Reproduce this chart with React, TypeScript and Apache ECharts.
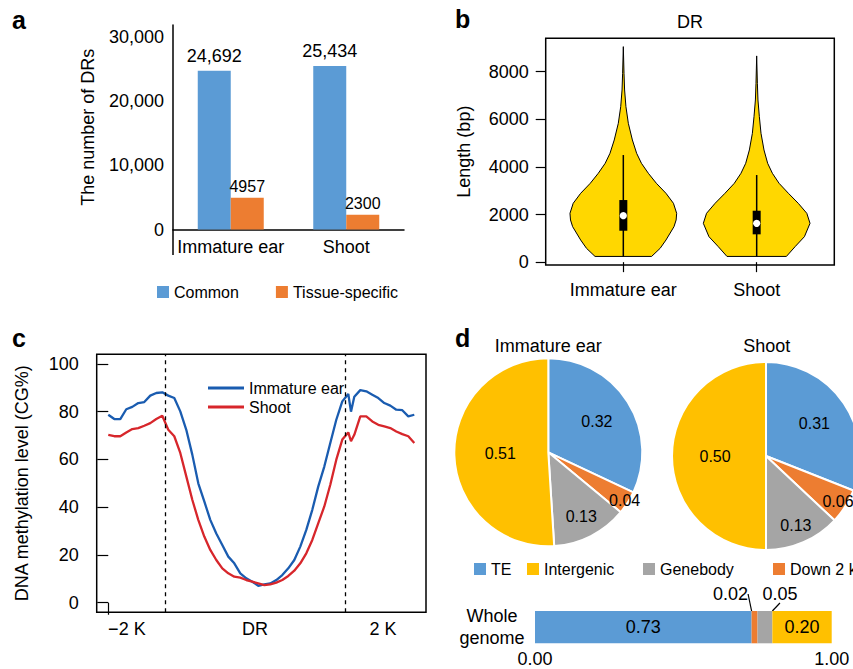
import React, { useEffect, useRef } from 'react';
import * as echarts from 'echarts';

const FONT = '"Liberation Sans", Arial, Helvetica, sans-serif';
const BLACK = '#000';

// ---------- Panel a: DR counts ----------
const barCategories = ['Immature ear', 'Shoot'];
const commonCounts = [24692, 25434];
const specificCounts = [4957, 2300];
const barYTicks = [0, 10000, 20000, 30000];

// ---------- Panel b: violin (length, bp) ----------
const violinGroups = ['Immature ear', 'Shoot'];
const earViolinValues = [240, 580, 930, 1490, 1770, 2050, 2470, 2890, 3310, 3730, 4150, 4570, 5130, 5830, 6530, 7230, 7930, 9050];
const earViolinDensity = [0.53, 0.69, 0.8, 0.95, 0.99, 1.0, 0.94, 0.8, 0.62, 0.47, 0.34, 0.25, 0.17, 0.094, 0.049, 0.024, 0.013, 0];
const shootViolinValues = [240, 650, 1070, 1630, 2050, 2470, 2890, 3310, 3730, 4150, 4710, 5410, 6110, 6810, 7510, 8660];
const shootViolinDensity = [0.557, 0.72, 0.895, 1.0, 0.94, 0.78, 0.595, 0.42, 0.295, 0.206, 0.137, 0.081, 0.05, 0.024, 0.013, 0];
const boxQ1 = [1319, 1168];
const boxQ3 = [2608, 2159];
const boxMedian = [1949, 1630];
const whiskerLow = [240, 240];
const whiskerHigh = [4498, 3658];
const violinYTicks = [0, 2000, 4000, 6000, 8000];

// ---------- Panel c: methylation profile ----------
const profileX = [0, 1, 2, 3, 4, 5, 6, 7, 8, 9, 10, 11, 12, 13, 14, 15, 16, 17, 18, 19, 20, 21, 22, 23, 24, 25, 26, 27, 28, 29, 30, 31, 32, 33, 34, 35, 36, 37, 38, 39, 40, 40.45, 41, 42, 43, 44, 45, 46, 47, 48, 49, 50, 51];
const earMethylation = [78.7, 76.9, 76.9, 81.0, 82.0, 83.6, 84.0, 86.7, 87.8, 88.1, 86.7, 85.7, 80.1, 72.4, 62.0, 50.0, 42.4, 34.7, 29.0, 24.2, 19.3, 16.5, 12.3, 10.2, 8.8, 7.1, 7.7, 8.1, 9.5, 11.6, 14.4, 17.9, 23.5, 30.5, 38.9, 48.7, 57.0, 66.9, 76.6, 84.3, 87.4, 80.0, 86.2, 89.0, 88.5, 87.1, 85.7, 83.6, 82.5, 80.8, 80.6, 78.0, 78.7];
const shootMethylation = [70.3, 69.7, 69.7, 71.3, 72.7, 73.1, 74.1, 75.2, 76.9, 78.3, 72.4, 69.7, 62.7, 52.9, 43.1, 34.7, 27.7, 22.1, 17.9, 14.4, 12.3, 10.9, 10.5, 9.5, 8.8, 8.1, 7.4, 7.7, 8.4, 9.5, 11.2, 13.4, 16.5, 20.7, 26.3, 33.3, 40.3, 49.4, 59.9, 68.3, 71.3, 67.6, 70.3, 78.0, 78.0, 75.9, 74.5, 73.8, 73.1, 71.7, 70.6, 69.7, 66.9];
const drBoundaries = [9.57, 39.45];
const profileYTicks = [0, 20, 40, 60, 80, 100];
const profileXTicks = [0];
const profileXLabelAt = [3.1, 24.45, 45.8];
const profileXLabels = ['\u22122 K', 'DR', '2 K'];

// ---------- Panel d: genomic distribution ----------
const regionNames = ['TE', 'Down 2 kb', 'Genebody', 'Intergenic'];
const earFractions = [0.32, 0.04, 0.13, 0.51];
const shootFractions = [0.31, 0.06, 0.13, 0.5];
const wholeGenomeFractions = [0.73, 0.02, 0.05, 0.2];
const legendOrder = ['TE', 'Intergenic', 'Genebody', 'Down 2 kb'];
const wholeGenomeTicks = [0, 1];

// styles
const regionColors: Record<string, string> = {
  TE: '#5B9BD5',
  'Down 2 kb': '#ED7D31',
  Genebody: '#A5A5A5',
  Intergenic: '#FFC000',
};
const earLabelRadius = [0.58, 0.93, 0.74, 0.48];
const shootLabelRadius = [0.59, 0.875, 0.77, 0.51];
const legendDLeft = [469, 522, 638, 768];
const PIE_R = 94;
const VIOLIN_HALF = 0.4;

function buildOption(): any {
  const violinProfiles = [
    { values: earViolinValues, dens: earViolinDensity },
    { values: shootViolinValues, dens: shootViolinDensity },
  ];

  const pieSeries = (name: string, center: number[], fr: number[], radii: number[]) => {
    const out: any[] = [
      {
        type: 'pie',
        name,
        center,
        radius: PIE_R,
        startAngle: 90,
        clockwise: true,
        silent: true,
        emphasis: { disabled: true },
        label: { show: false },
        labelLine: { show: false },
        itemStyle: { borderColor: '#fff', borderWidth: 2 },
        data: regionNames.map((n, k) => ({ name: n, value: fr[k], itemStyle: { color: regionColors[n] } })),
      },
    ];
    regionNames.forEach((_, j) => {
      const d = radii[j] * PIE_R;
      out.push({
        type: 'pie',
        name: name + '-label-' + j,
        center,
        radius: [d - 1, d + 1],
        startAngle: 90,
        clockwise: true,
        silent: true,
        emphasis: { disabled: true },
        labelLine: { show: false },
        itemStyle: { color: 'rgba(0,0,0,0)', borderWidth: 0 },
        label: {
          position: 'inside',
          fontSize: 16,
          fontFamily: FONT,
          color: BLACK,
          formatter: (p: any) => Number(p.value).toFixed(2),
        },
        data: regionNames.map((n, k) => ({
          name: n,
          value: fr[k],
          label: { show: k === j },
        })),
      });
    });
    return out;
  };

  const axisText = { color: BLACK, fontFamily: FONT, fontSize: 18 };

  return {
    animation: false,
    backgroundColor: '#fff',
    textStyle: { fontFamily: FONT, color: BLACK },
    grid: [
      { left: 173, top: 25, width: 231, height: 204.5 },
      { left: 545.7, top: 38.3, width: 288.6, height: 226.7, show: true, borderColor: BLACK, borderWidth: 1.5, backgroundColor: 'transparent' },
      { left: 96.7, top: 354.3, width: 329.3, height: 258, show: true, borderColor: BLACK, borderWidth: 1.5, backgroundColor: 'transparent' },
      { left: 535, top: 611, width: 296.7, height: 32.3 },
    ],
    xAxis: [
      {
        gridIndex: 0,
        type: 'category',
        data: barCategories,
        axisLine: { show: true, lineStyle: { color: BLACK, width: 1.5 } },
        axisTick: { show: false },
        axisLabel: { ...axisText, margin: 8, interval: 0 },
      },
      {
        gridIndex: 1,
        type: 'value',
        min: 0.418,
        max: 2.582,
        splitLine: { show: false },
        axisLine: { show: false },
        axisTick: { show: true, length: 10, lineStyle: { color: BLACK, width: 1.2 }, customValues: [1, 2] },
        axisLabel: { ...axisText, margin: 16, customValues: [1, 2], formatter: (v: number) => violinGroups[Math.round(v) - 1] },
      },
      {
        gridIndex: 2,
        type: 'value',
        min: -1.93,
        max: 52.95,
        splitLine: { show: false },
        axisLine: { show: false },
        axisTick: { show: true, length: 12, lineStyle: { color: BLACK, width: 1.2 }, customValues: profileXTicks },
        axisLabel: {
          ...axisText,
          margin: 8,
          customValues: profileXLabelAt,
          formatter: (v: number) => {
            const i = profileXLabelAt.findIndex((p) => Math.abs(p - v) < 1e-6);
            return i >= 0 ? profileXLabels[i] : '';
          },
        },
      },
      {
        gridIndex: 3,
        type: 'value',
        min: 0,
        max: 1,
        splitLine: { show: false },
        axisLine: { show: false },
        axisTick: { show: false },
        axisLabel: { ...axisText, margin: 7, customValues: wholeGenomeTicks, formatter: (v: number) => v.toFixed(2) },
      },
    ],
    yAxis: [
      {
        gridIndex: 0,
        type: 'value',
        min: 0,
        max: 31820,
        splitLine: { show: false },
        axisLine: { show: true, lineStyle: { color: BLACK, width: 1.5 } },
        axisTick: { show: false },
        axisLabel: { ...axisText, margin: 9, customValues: barYTicks, formatter: (v: number) => v.toLocaleString('en-US') },
        name: 'The number of DRs',
        nameLocation: 'middle',
        nameGap: 76,
        nameTextStyle: { ...axisText },
      },
      {
        gridIndex: 1,
        type: 'value',
        min: -120,
        max: 9400,
        splitLine: { show: false },
        axisLine: { show: false },
        axisTick: { show: true, length: 10, lineStyle: { color: BLACK, width: 1.2 }, customValues: violinYTicks },
        axisLabel: { ...axisText, margin: 17, customValues: violinYTicks, formatter: (v: number) => String(v) },
        name: 'Length (bp)',
        nameLocation: 'middle',
        nameGap: 73,
        nameTextStyle: { ...axisText },
      },
      {
        gridIndex: 2,
        type: 'value',
        min: -4,
        max: 104,
        splitLine: { show: false },
        axisLine: { show: false },
        axisTick: { show: true, length: 11, lineStyle: { color: BLACK, width: 1.2 }, customValues: profileYTicks },
        axisLabel: { ...axisText, margin: 18, customValues: profileYTicks, formatter: (v: number) => String(v) },
        name: 'DNA methylation level (CG%)',
        nameLocation: 'middle',
        nameGap: 66,
        nameTextStyle: { ...axisText },
      },
      {
        gridIndex: 3,
        type: 'category',
        data: ['Whole genome'],
        axisLine: { show: false },
        axisTick: { show: false },
        axisLabel: { ...axisText, margin: 43, align: 'center', lineHeight: 22, formatter: () => 'Whole\ngenome' },
      },
    ],
    legend: [
      {
        data: ['Common', 'Tissue-specific'],
        left: 152,
        top: 279,
        icon: 'rect',
        itemWidth: 12,
        itemHeight: 12,
        itemGap: 37,
        selectedMode: false,
        textStyle: { fontSize: 16, color: BLACK, fontFamily: FONT },
      },
      {
        data: ['Immature ear', 'Shoot'],
        orient: 'vertical',
        left: 203,
        top: 375,
        icon: 'rect',
        itemWidth: 36,
        itemHeight: 3,
        itemGap: 3,
        selectedMode: false,
        textStyle: { fontSize: 16, color: BLACK, fontFamily: FONT },
      },
      ...legendOrder.map((name, k) => ({
        data: [name],
        left: legendDLeft[k],
        top: 556,
        icon: 'rect',
        itemWidth: 12,
        itemHeight: 12,
        selectedMode: false,
        textStyle: { fontSize: 16, color: BLACK, fontFamily: FONT },
      })),
    ],
    graphic: [
      { type: 'line', shape: { x1: 173, y1: 229.5, x2: 173, y2: 255 }, style: { stroke: BLACK, lineWidth: 1.5 } },
      { type: 'text', style: { text: 'a', x: 12, y: 20.3, verticalAlign: 'middle', font: 'bold 25px ' + FONT, fill: BLACK } },
      { type: 'text', style: { text: 'b', x: 455, y: 19.3, verticalAlign: 'middle', font: 'bold 25px ' + FONT, fill: BLACK } },
      { type: 'text', style: { text: 'c', x: 12, y: 338.3, verticalAlign: 'middle', font: 'bold 25px ' + FONT, fill: BLACK } },
      { type: 'text', style: { text: 'd', x: 455, y: 338.3, verticalAlign: 'middle', font: 'bold 25px ' + FONT, fill: BLACK } },
      { type: 'text', style: { text: 'DR', x: 690, y: 22, align: 'center', verticalAlign: 'middle', font: '18px ' + FONT, fill: BLACK } },
      { type: 'text', style: { text: 'Immature ear', x: 548.3, y: 345.5, align: 'center', verticalAlign: 'middle', font: '18px ' + FONT, fill: BLACK } },
      { type: 'text', style: { text: 'Shoot', x: 766.7, y: 345.5, align: 'center', verticalAlign: 'middle', font: '18px ' + FONT, fill: BLACK } },
    ],
    series: [
      // panel a
      {
        type: 'bar',
        name: 'Common',
        xAxisIndex: 0,
        yAxisIndex: 0,
        data: commonCounts,
        barWidth: 33,
        barGap: '0%',
        itemStyle: { color: '#5B9BD5' },
        label: { show: true, position: 'top', distance: 6, fontSize: 18, color: BLACK, fontFamily: FONT, formatter: (p: any) => Number(p.value).toLocaleString('en-US') },
      },
      {
        type: 'bar',
        name: 'Tissue-specific',
        xAxisIndex: 0,
        yAxisIndex: 0,
        data: specificCounts,
        barWidth: 33,
        barGap: '0%',
        itemStyle: { color: '#ED7D31' },
        label: { show: true, position: 'top', distance: 3, fontSize: 16, color: BLACK, fontFamily: FONT, formatter: (p: any) => String(p.value) },
      },
      // panel b
      {
        type: 'custom',
        name: 'violin',
        xAxisIndex: 1,
        yAxisIndex: 1,
        silent: true,
        data: violinGroups.map((_, i) => [i + 1, boxMedian[i]]),
        renderItem: (params: any, api: any) => {
          const i = params.dataIndex;
          const x = api.value(0);
          const prof = violinProfiles[i];
          const pts: number[][] = [];
          for (let k = 0; k < prof.values.length; k++) pts.push(api.coord([x - prof.dens[k] * VIOLIN_HALF, prof.values[k]]));
          for (let k = prof.values.length - 1; k >= 0; k--) pts.push(api.coord([x + prof.dens[k] * VIOLIN_HALF, prof.values[k]]));
          const top = api.coord([x, whiskerHigh[i]]);
          const bot = api.coord([x, whiskerLow[i]]);
          const q3 = api.coord([x, boxQ3[i]]);
          const q1 = api.coord([x, boxQ1[i]]);
          const med = api.coord([x, boxMedian[i]]);
          return {
            type: 'group',
            children: [
              { type: 'polygon', shape: { points: pts }, style: { fill: '#FFD700', stroke: BLACK, lineWidth: 1 } },
              { type: 'line', shape: { x1: top[0], y1: top[1], x2: bot[0], y2: bot[1] }, style: { stroke: BLACK, lineWidth: 1.5 } },
              { type: 'rect', shape: { x: q3[0] - 4, y: q3[1], width: 8, height: q1[1] - q3[1] }, style: { fill: BLACK } },
              { type: 'circle', shape: { cx: med[0], cy: med[1], r: 3.6 }, style: { fill: '#fff' } },
            ],
          };
        },
      },
      // panel c
      {
        type: 'line',
        name: 'Immature ear',
        xAxisIndex: 2,
        yAxisIndex: 2,
        data: profileX.map((x, i) => [x, earMethylation[i]]),
        symbol: 'none',
        color: '#1A5CB0',
        lineStyle: { color: '#1A5CB0', width: 2.3 },
        itemStyle: { color: '#1A5CB0' },
        markLine: {
          silent: true,
          symbol: ['none', 'none'],
          label: { show: false },
          lineStyle: { color: BLACK, type: [4, 4], width: 1.3 },
          data: drBoundaries.map((x) => ({ xAxis: x })),
        },
      },
      {
        type: 'line',
        name: 'Shoot',
        xAxisIndex: 2,
        yAxisIndex: 2,
        data: profileX.map((x, i) => [x, shootMethylation[i]]),
        symbol: 'none',
        color: '#D7262B',
        lineStyle: { color: '#D7262B', width: 2.3 },
        itemStyle: { color: '#D7262B' },
      },
      // panel d: whole genome stacked bar
      ...regionNames.map((name, k) => {
        const inside = wholeGenomeFractions[k] >= 0.1;
        const s: any = {
          type: 'bar',
          name,
          xAxisIndex: 3,
          yAxisIndex: 3,
          stack: 'wg',
          barWidth: '100%',
          silent: true,
          data: [wholeGenomeFractions[k]],
          itemStyle: { color: regionColors[name] },
          label: {
            show: true,
            position: inside ? 'inside' : 'top',
            fontSize: 18,
            color: BLACK,
            fontFamily: FONT,
            formatter: (p: any) => Number(p.value).toFixed(2),
          },
        };
        if (!inside) {
          s.labelLayout = name === 'Down 2 kb' ? { dx: -24, dy: -3 } : { dx: 15, dy: -3 };
          s.labelLine = { show: true, lineStyle: { color: BLACK, width: 1.2 } };
        }
        return s;
      }),
      // panel d: pies
      ...pieSeries('pieEar', [548.3, 452.3], earFractions, earLabelRadius),
      ...pieSeries('pieShoot', [766, 456], shootFractions, shootLabelRadius),
    ],
  };
}

export default function App() {
  const ref = useRef<HTMLDivElement>(null);
  useEffect(() => {
    if (!ref.current) return;
    const chart = echarts.init(ref.current, null, { renderer: 'svg' });
    chart.setOption(buildOption());
    return () => chart.dispose();
  }, []);
  return (
    <div
      ref={ref}
      style={{ position: 'fixed', left: 0, top: 0, width: 853, height: 669, background: '#fff' }}
    />
  );
}
